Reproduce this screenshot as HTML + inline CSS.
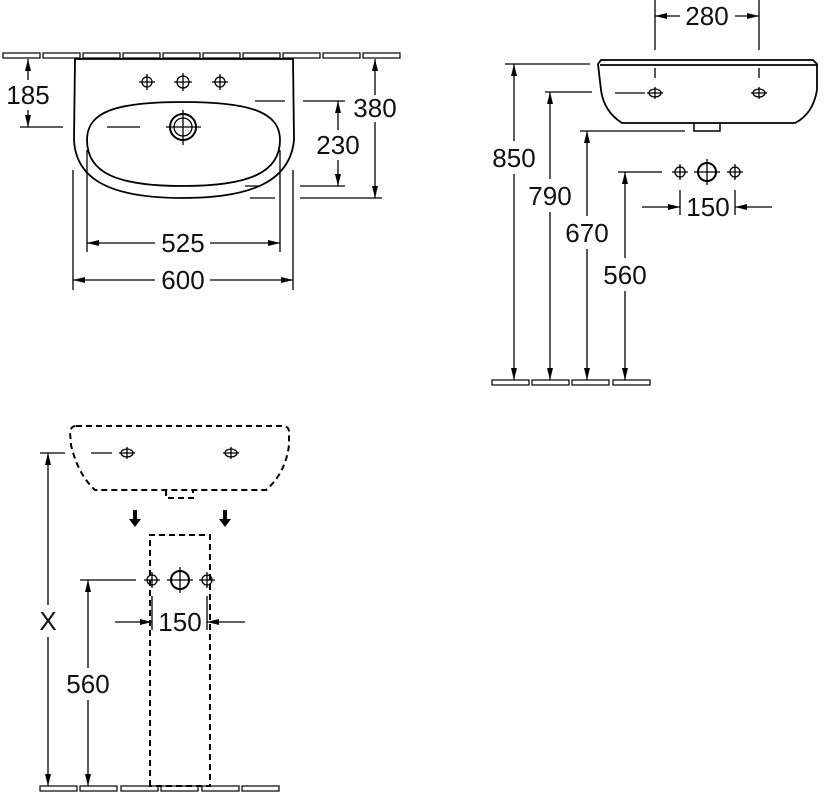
<!DOCTYPE html>
<html><head><meta charset="utf-8"><style>
html,body{margin:0;padding:0;background:#fff}
svg{display:block}
text{font-family:"Liberation Sans",sans-serif;font-size:26px;fill:#111}
</style></head><body>
<svg width="829" height="799" viewBox="0 0 829 799" xmlns="http://www.w3.org/2000/svg">
<defs>
<marker id="a" viewBox="0 0 12 6" refX="12" refY="3" markerWidth="12" markerHeight="6" markerUnits="userSpaceOnUse" orient="auto-start-reverse"><path d="M0,0L12,3L0,6z" fill="#000"/></marker>
</defs>
<g fill="none" stroke="#000" stroke-width="1.3">
<g stroke-width="1.2">
<rect x="3" y="53" width="37" height="5"/><rect x="43" y="53" width="37" height="5"/><rect x="83" y="53" width="37" height="5"/><rect x="123" y="53" width="37" height="5"/><rect x="163" y="53" width="37" height="5"/><rect x="203" y="53" width="37" height="5"/><rect x="243" y="53" width="37" height="5"/><rect x="283" y="53" width="37" height="5"/><rect x="323" y="53" width="37" height="5"/><rect x="363" y="53" width="37" height="5"/>
</g>
<path d="M75,59 L293,59 L294,140 C290,182 250,198 183,198 C115,198 76,182 74,140 Z" stroke-width="1.8"/>
<path d="M183,102 C250,102 280,112 280,140 C280,172 250,186 183,186 C115,186 87,172 87,140 C87,112 115,102 183,102 Z" stroke-width="1.8"/>
<circle cx="183" cy="127" r="13" stroke-width="2"/><circle cx="183" cy="127" r="9"/>
<path d="M183,110V145M166,127H201"/>
<g><circle cx="147" cy="82" r="5"/><path d="M147,74V90M139,82H155"/><circle cx="183" cy="82" r="6"/><path d="M183,73V91M174,82H192"/><circle cx="220" cy="82" r="5"/><path d="M220,74V90M212,82H228"/></g>
<path d="M20,127H63M107,127H140M255,101H285M303,101H345M245,186H260M300,186H345M250,198H275M300,198H382"/>
<line x1="28" y1="80" x2="28" y2="59" marker-end="url(#a)"/>
<line x1="28" y1="110" x2="28" y2="127" marker-end="url(#a)"/>
<line x1="375" y1="95" x2="375" y2="59" marker-end="url(#a)"/>
<line x1="375" y1="122" x2="375" y2="198" marker-end="url(#a)"/>
<line x1="338" y1="130" x2="338" y2="101" marker-end="url(#a)"/>
<line x1="338" y1="160" x2="338" y2="186" marker-end="url(#a)"/>
<path d="M87,150V252M280,150V252M73,170V290M293,170V290"/>
<line x1="155" y1="243" x2="87" y2="243" marker-end="url(#a)"/>
<line x1="210" y1="243" x2="280" y2="243" marker-end="url(#a)"/>
<line x1="155" y1="280" x2="73" y2="280" marker-end="url(#a)"/>
<line x1="210" y1="280" x2="293" y2="280" marker-end="url(#a)"/>
<path d="M601,60 L813,60 L817,64 L817,90 C814,108 805,118 795,123 L622,123 C611,116 603,105 601,90 L598,64 Z" stroke-width="1.8"/>
<path d="M600,65H817" stroke-width="1.8"/>
<path d="M694,123V131H720V123" stroke-width="1.5"/>
<path d="M655,0V50M759,0V50M655,68V78M759,68V78M615,93H645"/>
<line x1="680" y1="16" x2="655" y2="16" marker-end="url(#a)"/>
<line x1="735" y1="16" x2="759" y2="16" marker-end="url(#a)"/>
<ellipse cx="655" cy="93" rx="6" ry="4"/><path d="M655,87V99M647,93H663"/>
<ellipse cx="759" cy="93" rx="6" ry="4"/><path d="M759,87V99M751,93H767"/>
<path d="M505,64H590M545,92H592M580,131H685M618,172H662"/>
<line x1="514" y1="141" x2="514" y2="64" marker-end="url(#a)"/><line x1="514" y1="174" x2="514" y2="380" marker-end="url(#a)"/>
<line x1="550" y1="179" x2="550" y2="92" marker-end="url(#a)"/><line x1="550" y1="212" x2="550" y2="380" marker-end="url(#a)"/>
<line x1="587" y1="216" x2="587" y2="131" marker-end="url(#a)"/><line x1="587" y1="249" x2="587" y2="380" marker-end="url(#a)"/>
<line x1="625" y1="258" x2="625" y2="172" marker-end="url(#a)"/><line x1="625" y1="291" x2="625" y2="380" marker-end="url(#a)"/>
<circle cx="680" cy="172" r="5"/><path d="M680,164V180M672,172H688"/>
<circle cx="707" cy="172" r="9" stroke-width="2"/><path d="M707,159V185M694,172H720"/>
<circle cx="735" cy="172" r="5"/><path d="M735,164V180M727,172H743"/>
<path d="M680,190V215M735,190V215"/>
<line x1="642" y1="207" x2="680" y2="207" marker-end="url(#a)"/>
<line x1="772" y1="207" x2="735" y2="207" marker-end="url(#a)"/>
<g stroke-width="1.2"><rect x="492" y="380" width="37" height="5"/><rect x="532" y="380" width="37" height="5"/><rect x="572" y="380" width="37" height="5"/><rect x="613" y="380" width="37" height="5"/></g>
<g stroke-dasharray="6,4" stroke-width="2">
<path d="M76,426 L284,426 Q289,427 289,432 L289,445 C287,462 280,478 266,490 L95,490 C82,478 75,462 71,445 L70,432 Q71,426 76,426 Z"/>
<path d="M166,490V498H193V490"/>
<path d="M150,786V535H210V786Z"/>
</g>
<path d="M40,453H65M91,453H112"/>
<ellipse cx="127" cy="453" rx="6" ry="4"/><path d="M127,447V459M119,453H135"/>
<ellipse cx="231" cy="453" rx="6" ry="4"/><path d="M231,447V459M223,453H239"/>
<path d="M80,580H136"/>
<circle cx="152" cy="580" r="5"/><path d="M152,572V588M144,580H160"/>
<circle cx="180" cy="580" r="9" stroke-width="2"/><path d="M180,567V593M167,580H193"/>
<circle cx="207" cy="580" r="5"/><path d="M207,572V588M199,580H215"/>
<path d="M152,596V630M207,596V630"/>
<line x1="115" y1="622" x2="152" y2="622" marker-end="url(#a)"/>
<line x1="245" y1="622" x2="207" y2="622" marker-end="url(#a)"/>
<line x1="48" y1="605" x2="48" y2="453" marker-end="url(#a)"/><line x1="48" y1="637" x2="48" y2="786" marker-end="url(#a)"/>
<line x1="88" y1="668" x2="88" y2="580" marker-end="url(#a)"/><line x1="88" y1="700" x2="88" y2="786" marker-end="url(#a)"/>
<g stroke-width="1.2"><rect x="40" y="786" width="37" height="5"/><rect x="80" y="786" width="37" height="5"/><rect x="121" y="786" width="37" height="5"/><rect x="161" y="786" width="37" height="5"/><rect x="202" y="786" width="37" height="5"/><rect x="242" y="786" width="37" height="5"/></g>
</g>
<g fill="#000"><path d="M133,510h4v9h4l-6,8l-6,-8h4z"/><path d="M223,510h4v9h4l-6,8l-6,-8h4z"/></g>
<g text-anchor="middle">
<text x="28" y="104">185</text>
<text x="375" y="117">380</text>
<text x="338" y="154">230</text>
<text x="183" y="252">525</text>
<text x="183" y="289">600</text>
<text x="707" y="25">280</text>
<text x="514" y="167">850</text>
<text x="550" y="205">790</text>
<text x="587" y="242">670</text>
<text x="625" y="284">560</text>
<text x="708" y="216">150</text>
<text x="48" y="630">X</text>
<text x="88" y="693">560</text>
<text x="180" y="631">150</text>
</g>
</svg>
</body></html>
